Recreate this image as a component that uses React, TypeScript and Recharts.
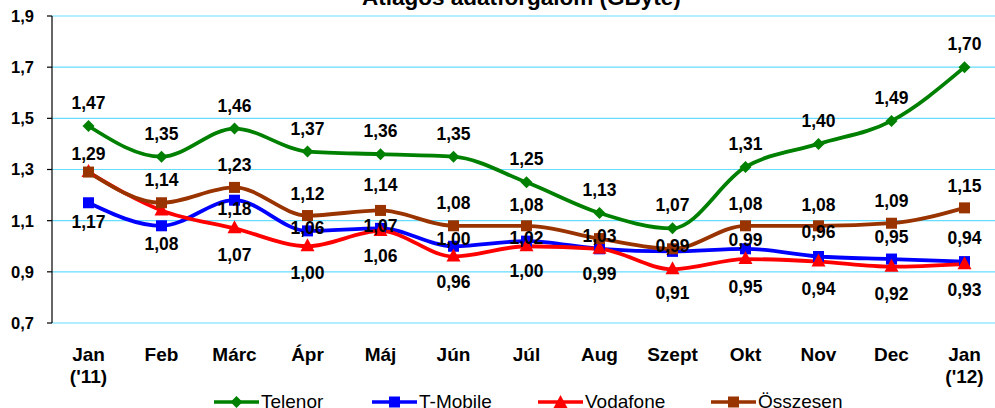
import React from 'react'
import { LineChart, Line, XAxis, YAxis, CartesianGrid, LabelList } from 'recharts'

const months = ["Jan\n('11)", 'Feb', 'Márc', 'Ápr', 'Máj', 'Jún', 'Júl', 'Aug', 'Szept', 'Okt', 'Nov', 'Dec', "Jan\n('12)"]
const telenor = [1.47, 1.35, 1.46, 1.37, 1.36, 1.35, 1.25, 1.13, 1.07, 1.31, 1.4, 1.49, 1.7]
const tmobile = [1.17, 1.08, 1.18, 1.06, 1.07, 1.0, 1.02, 0.99, 0.98, 0.99, 0.96, 0.95, 0.94]
const vodafone = [1.29, 1.14, 1.07, 1.0, 1.06, 0.96, 1.0, 0.99, 0.91, 0.95, 0.94, 0.92, 0.93]
const osszesen = [1.29, 1.17, 1.23, 1.12, 1.14, 1.08, 1.08, 1.03, 0.99, 1.08, 1.08, 1.09, 1.15]
const yTicks = [0.7, 0.9, 1.1, 1.3, 1.5, 1.7, 1.9]

// label placement (px from point), null = no label shown
const telenorDy = [-23, -23, -23, -23, -23, -23, -23, -23, -23, -23, -23, -23, -23]
const tmobileDy = [19, 18, 9, -3, -2, -7, -3, null, null, -9, -24, -22, -24]
const vodafoneDy = [null, -30, 27, 27, 25, 26, 25, 25, 24, 28, 27, 27, 26]
const osszesenDy = [-18, null, -22, -22, -25, -23, -21, -3, -3, -22, -21, -22, -22]

const data = months.map((m, i) => ({
    month: m,
    telenor: telenor[i],
    tmobile: tmobile[i],
    vodafone: vodafone[i],
    osszesen: osszesen[i],
}))

const FONT = 'Arial, "Liberation Sans", sans-serif'
const fmt = (v: number, d = 2) => v.toFixed(d).replace('.', ',')

const Diamond = ({ cx, cy, color }: any) => (
    <polygon points={`${cx},${cy - 6} ${cx + 6},${cy} ${cx},${cy + 6} ${cx - 6},${cy}`} fill={color} />
)
const Square = ({ cx, cy, color }: any) => <rect x={cx - 5.5} y={cy - 5.5} width={11} height={11} fill={color} />
const Triangle = ({ cx, cy, color }: any) => (
    <polygon points={`${cx},${cy - 8} ${cx + 7},${cy + 5} ${cx - 7},${cy + 5}`} fill={color} />
)

const makeLabel = (dys: (number | null)[]) => (p: any) => {
    const dy = dys[p.index]
    if (dy == null) return null
    const x = p.x ?? p.viewBox?.x
    const y = p.y ?? p.viewBox?.y
    return (
        <text
            key={`l${p.index}`}
            x={x}
            y={y + dy}
            textAnchor="middle"
            dominantBaseline="central"
            fontFamily={FONT}
            fontWeight="bold"
            fontSize={17.5}
            fill="#000"
        >
            {fmt(Number(p.value))}
        </text>
    )
}

const MonthTick = ({ x, y, payload }: any) => {
    const lines = String(payload.value).split('\n')
    return (
        <text x={x} y={y} textAnchor="middle" fontFamily={FONT} fontWeight="bold" fontSize={19} fill="#000">
            {lines.map((l, i) => (
                <tspan key={i} x={x} y={y + 38 + i * 22}>
                    {l}
                </tspan>
            ))}
        </text>
    )
}

const legendItems = [
    { name: 'Telenor', color: '#008000', shape: 'diamond', left: 214 },
    { name: 'T-Mobile', color: '#0000ff', shape: 'square', left: 372 },
    { name: 'Vodafone', color: '#ff0000', shape: 'triangle', left: 538 },
    { name: 'Összesen', color: '#993300', shape: 'square', left: 711 },
]

function LegendRow() {
    return (
        <>
            {legendItems.map((it) => (
                <div
                    key={it.name}
                    style={{
                        position: 'absolute',
                        left: it.left,
                        top: 392,
                        display: 'flex',
                        alignItems: 'center',
                        fontFamily: FONT,
                        fontSize: 19,
                        lineHeight: '20px',
                        color: '#000',
                        whiteSpace: 'nowrap',
                    }}
                >
                    <svg width={45} height={16}>
                        <line x1={0} x2={45} y1={8} y2={8} stroke={it.color} strokeWidth={3.5} />
                        {it.shape === 'diamond' && <Diamond cx={22.5} cy={8} color={it.color} />}
                        {it.shape === 'square' && <Square cx={22.5} cy={8} color={it.color} />}
                        {it.shape === 'triangle' && <Triangle cx={22.5} cy={9} color={it.color} />}
                    </svg>
                    <span style={{ marginLeft: 2 }}>{it.name}</span>
                </div>
            ))}
        </>
    )
}

export default function App() {
    return (
        <div style={{ position: 'absolute', left: 0, top: 0, width: 995, height: 408, overflow: 'hidden', background: '#fff' }}>
            <div
                style={{
                    position: 'absolute',
                    left: 362,
                    top: -13,
                    fontFamily: FONT,
                    fontWeight: 'bold',
                    fontSize: 22.5,
                    lineHeight: '22px',
                    whiteSpace: 'nowrap',
                    color: '#000',
                }}
            >
                Átlagos adatforgalom (GByte)
            </div>
            <div style={{ position: 'absolute', left: 0, top: 0 }}>
                <LineChart width={1001} height={408} data={data} margin={{ top: 16, right: 0, bottom: 25, left: 0 }}>
                    <CartesianGrid horizontal vertical={false} stroke="#66ddff" strokeWidth={1.2} />
                    <XAxis
                        xAxisId="bounds"
                        type="number"
                        domain={[0, 13]}
                        ticks={[0, 1, 2, 3, 4, 5, 6, 7, 8, 9, 10, 11, 12, 13]}
                        height={0}
                        tickSize={5}
                        tickFormatter={() => ''}
                        axisLine={{ stroke: '#000', strokeWidth: 1.2 }}
                        tickLine={{ stroke: '#000', strokeWidth: 1.2 }}
                        allowDataOverflow
                    />
                    <XAxis
                        dataKey="month"
                        height={60}
                        padding={{ left: 36.5, right: 36.5 }}
                        axisLine={false}
                        tickLine={false}
                        tickSize={0}
                        tickMargin={0}
                        interval={0}
                        tick={<MonthTick />}
                    />
                    <YAxis
                        width={52}
                        domain={[0.7, 1.9]}
                        ticks={yTicks}
                        tickFormatter={(v: number) => fmt(v, 1)}
                        axisLine={{ stroke: '#000', strokeWidth: 1.2 }}
                        tickLine={{ stroke: '#000', strokeWidth: 1.2 }}
                        tickSize={5}
                        tickMargin={13}
                        tick={{ fill: '#000', fontSize: 16.5, fontWeight: 'bold', fontFamily: FONT }}
                        allowDataOverflow
                    />
                    <Line
                        dataKey="telenor"
                        type="monotone"
                        stroke="#008000"
                        strokeWidth={3.8}
                        isAnimationActive={false}
                        dot={(p: any) => <Diamond key={`d${p.index}`} cx={p.cx} cy={p.cy} color="#008000" />}
                    >
                        <LabelList dataKey="telenor" content={makeLabel(telenorDy)} />
                    </Line>
                    <Line
                        dataKey="tmobile"
                        type="monotone"
                        stroke="#0000ff"
                        strokeWidth={3.8}
                        isAnimationActive={false}
                        dot={(p: any) => <Square key={`d${p.index}`} cx={p.cx} cy={p.cy} color="#0000ff" />}
                    >
                        <LabelList dataKey="tmobile" content={makeLabel(tmobileDy)} />
                    </Line>
                    <Line
                        dataKey="vodafone"
                        type="monotone"
                        stroke="#ff0000"
                        strokeWidth={3.8}
                        isAnimationActive={false}
                        dot={(p: any) => <Triangle key={`d${p.index}`} cx={p.cx} cy={p.cy} color="#ff0000" />}
                    >
                        <LabelList dataKey="vodafone" content={makeLabel(vodafoneDy)} />
                    </Line>
                    <Line
                        dataKey="osszesen"
                        type="monotone"
                        stroke="#993300"
                        strokeWidth={3.8}
                        isAnimationActive={false}
                        dot={(p: any) => <Square key={`d${p.index}`} cx={p.cx} cy={p.cy} color="#993300" />}
                    >
                        <LabelList dataKey="osszesen" content={makeLabel(osszesenDy)} />
                    </Line>
                </LineChart>
            </div>
            <LegendRow />
        </div>
    )
}
